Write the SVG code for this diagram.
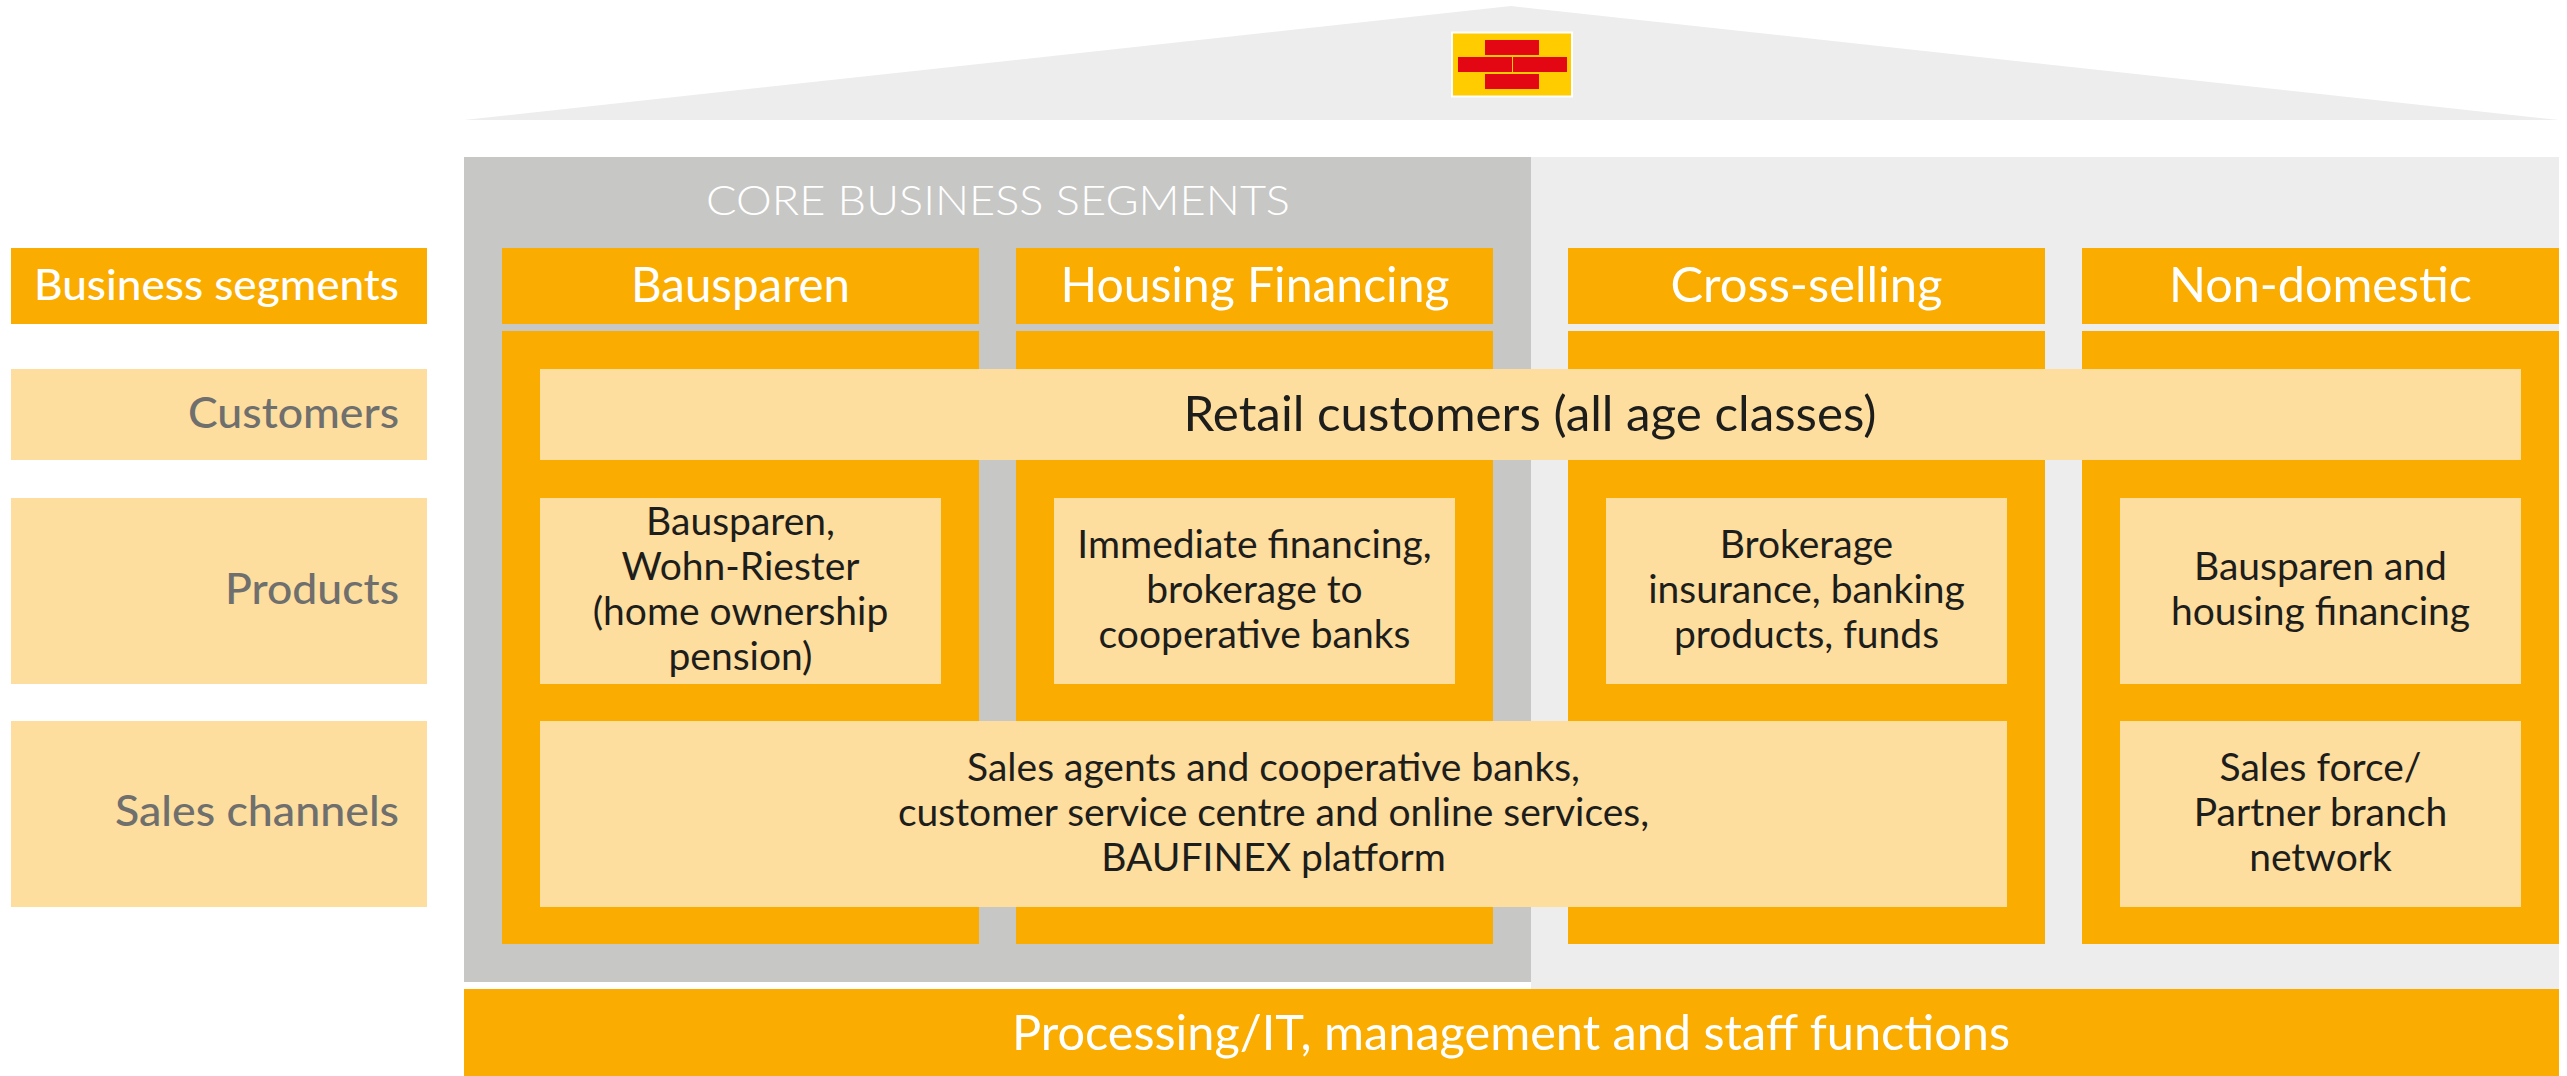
<svg xmlns="http://www.w3.org/2000/svg" width="2567" height="1076" viewBox="0 0 2567 1076">
<style>
text{font-family:"Lato","Open Sans",sans-serif;text-anchor:middle}
.o{fill:#FAAC00}.l{fill:#FDDE9E}.g{fill:#C7C7C5}.p{fill:#EDEDED}.r{fill:#E30613}
.h{font-size:48px;fill:#fff;font-weight:400}
.b{font-size:39px;fill:#1D1D1B}
.s{font-size:42px;font-weight:500;text-anchor:end}
</style>
<rect width="2567" height="1076" fill="#fff"/>
<g id="roof"><path class="p" d="M464 120L1511 6L2559 120Z"/></g>
<g id="logo">
<rect x="1452" y="32.500" width="120" height="64" fill="#FFCC00" stroke="#fff" stroke-width="2"/>
<rect class="r" x="1485" y="40" width="54" height="15"/>
<rect class="r" x="1458" y="57" width="54" height="15"/>
<rect class="r" x="1513" y="57" width="54" height="15"/>
<rect class="r" x="1485" y="74" width="54" height="15"/>
</g>
<g id="panel-other"><rect class="p" x="1531" y="157" width="1028" height="832"/></g>
<g id="panel-core"><rect class="g" x="464" y="157" width="1067" height="825"/>
<text x="998" y="215" font-size="42" font-weight="300" fill="#fff" textLength="584" lengthAdjust="spacingAndGlyphs">CORE BUSINESS SEGMENTS</text></g>
<g id="row-business-segments"><rect class="o" x="11" y="248" width="416" height="76"/><text class="s" x="399" y="300" fill="#fff" textLength="365" lengthAdjust="spacingAndGlyphs">Business segments</text></g>
<g id="row-customers"><rect class="l" x="11" y="369" width="416" height="91"/><text class="s" x="399" y="428" fill="#6F6F6E" textLength="211" lengthAdjust="spacingAndGlyphs">Customers</text></g>
<g id="row-products"><rect class="l" x="11" y="498" width="416" height="186"/><text class="s" x="399" y="604" fill="#6F6F6E" textLength="174" lengthAdjust="spacingAndGlyphs">Products</text></g>
<g id="row-sales"><rect class="l" x="11" y="721" width="416" height="186"/><text class="s" x="399" y="826" fill="#6F6F6E" textLength="284" lengthAdjust="spacingAndGlyphs">Sales channels</text></g>
<g id="col-bausparen"><rect class="o" x="502" y="248" width="477" height="76"/><rect class="o" x="502" y="331" width="477" height="613"/><text class="h" x="740.500" y="302" textLength="219" lengthAdjust="spacingAndGlyphs">Bausparen</text></g>
<g id="col-housing"><rect class="o" x="1016" y="248" width="477" height="76"/><rect class="o" x="1016" y="331" width="477" height="613"/><text class="h" x="1255" y="302" textLength="389" lengthAdjust="spacingAndGlyphs">Housing Financing</text></g>
<g id="col-cross"><rect class="o" x="1568" y="248" width="477" height="76"/><rect class="o" x="1568" y="331" width="477" height="613"/><text class="h" x="1806.500" y="302" textLength="272" lengthAdjust="spacingAndGlyphs">Cross-selling</text></g>
<g id="col-nondomestic"><rect class="o" x="2082" y="248" width="477" height="76"/><rect class="o" x="2082" y="331" width="477" height="613"/><text class="h" x="2320.500" y="302" textLength="303" lengthAdjust="spacingAndGlyphs">Non-domestic</text></g>
<g id="retail"><rect class="l" x="540" y="369" width="1981" height="91"/><text class="h" x="1530" y="431" style="fill:#1D1D1B" textLength="693" lengthAdjust="spacingAndGlyphs">Retail customers (all age classes)</text></g>
<g id="prod-bausparen"><rect class="l" x="540" y="498" width="401" height="186"/>
<text class="b" x="740.500" y="535">Bausparen,</text><text class="b" x="740.500" y="580">Wohn-Riester</text><text class="b" x="740.500" y="625">(home ownership</text><text class="b" x="740.500" y="670">pension)</text></g>
<g id="prod-housing"><rect class="l" x="1054" y="498" width="401" height="186"/>
<text class="b" x="1254.500" y="558">Immediate financing,</text><text class="b" x="1254.500" y="603">brokerage to</text><text class="b" x="1254.500" y="648">cooperative banks</text></g>
<g id="prod-cross"><rect class="l" x="1606" y="498" width="401" height="186"/>
<text class="b" x="1806.500" y="558">Brokerage</text><text class="b" x="1806.500" y="603">insurance, banking</text><text class="b" x="1806.500" y="648">products, funds</text></g>
<g id="prod-nondomestic"><rect class="l" x="2120" y="498" width="401" height="186"/>
<text class="b" x="2320.500" y="580">Bausparen and</text><text class="b" x="2320.500" y="625">housing financing</text></g>
<g id="sales-main"><rect class="l" x="540" y="721" width="1467" height="186"/>
<text class="b" x="1273.500" y="781">Sales agents and cooperative banks,</text><text class="b" x="1273.500" y="826">customer service centre and online services,</text><text class="b" x="1273.500" y="871">BAUFINEX platform</text></g>
<g id="sales-nondomestic"><rect class="l" x="2120" y="721" width="401" height="186"/>
<text class="b" x="2320.500" y="781">Sales force/</text><text class="b" x="2320.500" y="826">Partner branch</text><text class="b" x="2320.500" y="871">network</text></g>
<g id="base"><rect class="o" x="464" y="989" width="2095" height="87"/><text class="h" x="1511" y="1050" textLength="998" lengthAdjust="spacingAndGlyphs">Processing/IT, management and staff functions</text></g>
<g id="connectors"/>
</svg>
